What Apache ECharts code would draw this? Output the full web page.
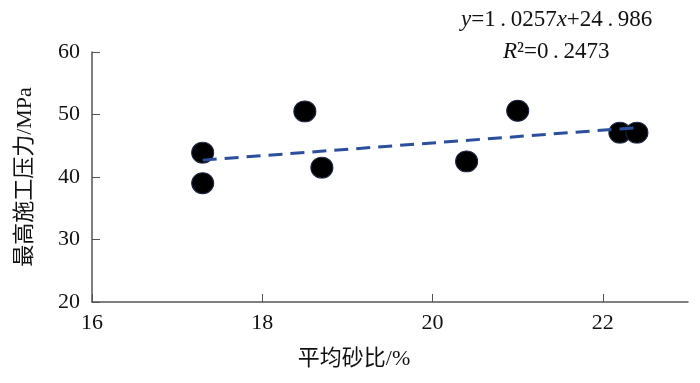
<!DOCTYPE html>
<html>
<head>
<meta charset="utf-8">
<script src="https://cdn.jsdelivr.net/npm/echarts@6/dist/echarts.min.js"></script>
<style>
  html, body { margin: 0; padding: 0; background: #fff; }
  #main { width: 700px; height: 383px; }
</style>
</head>
<body>
<div id="main"></div>
<script>
var sandRatio = [17.3, 17.3, 18.5, 18.7, 20.4, 21.0, 22.2, 22.4];
var maxPressure = [43.9, 39.0, 50.5, 41.5, 42.5, 50.6, 47.1, 47.1];
var trendX = [17.3, 22.4];
var trendY = [42.7, 47.9];
// thin spaces mimic the wide decimal dot of the original
var eqText = '{i|y}=1\u2009.\u20090257{i|x}+24\u2009.\u2009986';
var r2Text = '{i|R}²=0\u2009.\u20092473';

var myChart = echarts.init(document.getElementById('main'));
var serif = '"Liberation Serif", "Noto Sans CJK SC", serif';

var points = sandRatio.map(function (x, i) { return [x, maxPressure[i]]; });
var trend = trendX.map(function (x, i) { return [x, trendY[i]]; });

var option = {
  animation: false,
  grid: { left: 92, right: 12, top: 52, bottom: 81 },
  xAxis: {
    type: 'value',
    min: 16,
    max: 23,
    interval: 2,
    name: '平均砂比/%',
    nameLocation: 'middle',
    nameGap: 46,
    nameTextStyle: { fontFamily: serif, fontSize: 22, color: '#111', padding: [0, 72, 0, 0] },
    axisLine: { onZero: false, lineStyle: { color: '#555', width: 1.5 } },
    axisTick: { inside: true, length: 8, lineStyle: { color: '#555' } },
    axisLabel: { margin: 10, fontFamily: serif, fontSize: 22, color: '#111', showMaxLabel: false },
    splitLine: { show: false }
  },
  yAxis: {
    type: 'value',
    min: 20,
    max: 60,
    interval: 10,
    name: '最高施工压力/MPa',
    nameLocation: 'middle',
    nameGap: 56,
    nameTextStyle: { fontFamily: serif, fontSize: 22, color: '#111' },
    axisLine: { show: true, onZero: false, lineStyle: { color: '#555', width: 1.5 } },
    axisTick: { show: true, inside: true, length: 8, lineStyle: { color: '#555' } },
    axisLabel: { margin: 12, fontFamily: serif, fontSize: 22, color: '#111' },
    splitLine: { show: false }
  },
  series: [{
    type: 'scatter',
    data: points,
    symbolSize: [22, 21],
    itemStyle: { color: '#000', opacity: 1, borderColor: '#1a2340', borderWidth: 1 },
    z: 2
  }, {
    type: 'line',
    data: trend,
    symbol: 'none',
    lineStyle: { color: '#2b4f9e', width: 3, type: [14, 8] },
    z: 3
  }],
  graphic: [{
    type: 'text',
    left: 461,
    top: 8,
    style: {
      text: eqText,
      fontFamily: serif,
      fontSize: 23,
      fill: '#111',
      rich: { i: { fontStyle: 'italic', fontFamily: serif, fontSize: 23 } }
    }
  }, {
    type: 'text',
    left: 503,
    top: 40,
    style: {
      text: r2Text,
      fontFamily: serif,
      fontSize: 23,
      fill: '#111',
      rich: { i: { fontStyle: 'italic', fontFamily: serif, fontSize: 23 } }
    }
  }]
};
myChart.setOption(option);
</script>
</body>
</html>
